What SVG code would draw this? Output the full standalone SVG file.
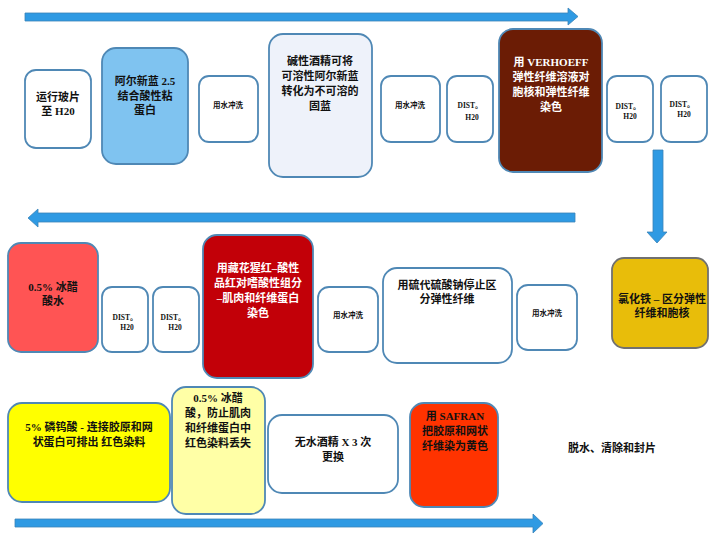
<svg xmlns="http://www.w3.org/2000/svg" width="720" height="544" viewBox="0 0 720 544">
<style>
.n{stroke:#4f88b5;stroke-width:1.8}
.w{fill:#ffffff}
.t{font-family:"Liberation Serif","Noto Sans CJK SC",serif;font-weight:bold;text-anchor:middle;fill:#111}
.m{font-size:11px}
.s{font-size:7.5px}
.wt{fill:#ffffff}
.ar{fill:#2f9ae3;stroke:#3a83b8;stroke-width:0.8}
</style>
<rect width="720" height="544" fill="#ffffff"/>
<g id="connectors">
<polygon class="ar" points="25,13 568,13 568,8 578,16.5 568,25 568,21 25,21"/>
<polygon class="ar" points="653,150 663,150 663,232 667,232 657,243 647,232 653,232"/>
<polygon class="ar" points="575,213 575,222 38,222 38,227 28,218 38,209 38,213"/>
<polygon class="ar" points="15,519 533,519 533,514 543,523.5 533,533 533,527 15,527"/>
</g>
<g id="n1"><rect class="n w" x="25" y="70" width="66" height="78" rx="11"/>
<text class="t m" x="58" y="101">运行玻片</text><text class="t m" x="58" y="115">至 H20</text></g>
<g id="n2"><rect class="n" fill="#7fc3f0" x="102" y="48" width="86" height="116" rx="14"/>
<text class="t m" x="145" y="85">阿尔新蓝 2.5</text><text class="t m" x="145" y="100">结合酸性粘</text><text class="t m" x="145" y="114">蛋白</text></g>
<g id="n3"><rect class="n w" x="199" y="76" width="59" height="66" rx="10"/>
<text class="t s" x="228" y="108">用水冲洗</text></g>
<g id="n4"><rect class="n" fill="#eef2fa" x="269" y="34" width="103" height="143" rx="14"/>
<text class="t m" x="320" y="65">碱性酒精可将</text><text class="t m" x="320" y="80">可溶性阿尔新蓝</text><text class="t m" x="320" y="95">转化为不可溶的</text><text class="t m" x="320" y="110">固蓝</text></g>
<g id="n5"><rect class="n w" x="381" y="76" width="59" height="66" rx="10"/>
<text class="t s" x="410" y="108">用水冲洗</text></g>
<g id="n6"><rect class="n w" x="447" y="76" width="46" height="66" rx="10"/>
<text class="t s" x="470" y="108">DIST。</text><text class="t s" x="472" y="120">H20</text></g>
<g id="n7"><rect class="n" fill="#6b1c05" x="499" y="29" width="103" height="143" rx="14"/>
<text class="t m wt" x="551" y="66">用 VERHOEFF</text><text class="t m wt" x="551" y="81">弹性纤维溶液对</text><text class="t m wt" x="551" y="96">胞核和弹性纤维</text><text class="t m wt" x="551" y="111">染色</text></g>
<g id="n8"><rect class="n w" x="607" y="76" width="46" height="66" rx="10"/>
<text class="t s" x="628" y="109">DIST。</text><text class="t s" x="630" y="119">H20</text></g>
<g id="n9"><rect class="n w" x="661" y="76" width="46" height="66" rx="10"/>
<text class="t s" x="682" y="107">DIST。</text><text class="t s" x="684" y="117">H20</text></g>
<g id="n10"><rect class="n" fill="#e8bd0a" stroke="#6e6e6e" style="stroke:#707070" x="612" y="258" width="96" height="90" rx="12"/>
<text class="t m" x="662" y="303">氯化铁 – 区分弹性</text><text class="t m" x="662" y="317">纤维和胞核</text></g>
<g id="n11"><rect class="n w" x="517" y="285" width="60" height="65" rx="11"/>
<text class="t s" x="547" y="316">用水冲洗</text></g>
<g id="n12"><rect class="n w" x="383" y="268" width="129" height="95" rx="14"/>
<text class="t m" x="447" y="289">用硫代硫酸钠停止区</text><text class="t m" x="447" y="303">分弹性纤维</text></g>
<g id="n13"><rect class="n w" x="318" y="287" width="60" height="65" rx="11"/>
<text class="t s" x="348" y="318">用水冲洗</text></g>
<g id="n14"><rect class="n" fill="#c20008" x="203" y="235" width="110" height="143" rx="14"/>
<text class="t m wt" x="258" y="272">用藏花猩红–酸性</text><text class="t m wt" x="258" y="287">品红对嗜酸性组分</text><text class="t m wt" x="258" y="302">–肌肉和纤维蛋白</text><text class="t m wt" x="258" y="317">染色</text></g>
<g id="n15"><rect class="n w" x="153" y="287" width="46" height="65" rx="10"/>
<text class="t s" x="173" y="320">DIST。</text><text class="t s" x="175" y="330">H20</text></g>
<g id="n16"><rect class="n w" x="102" y="287" width="46" height="65" rx="10"/>
<text class="t s" x="125" y="320">DIST。</text><text class="t s" x="127" y="330">H20</text></g>
<g id="n17"><rect class="n" fill="#ff5454" x="8" y="243" width="90" height="109" rx="13"/>
<text class="t m" x="53" y="291">0.5% 冰醋</text><text class="t m" x="53" y="305">酸水</text></g>
<g id="n18"><rect class="n" fill="#ffff00" x="8" y="403" width="162" height="99" rx="14"/>
<text class="t m" x="89" y="431">5% 磷钨酸 - 连接胶原和网</text><text class="t m" x="89" y="446">状蛋白可排出 红色染料</text></g>
<g id="n19"><rect class="n" fill="#ffffa6" x="172" y="387" width="93" height="127" rx="14"/>
<text class="t m" x="218" y="402">0.5% 冰醋</text><text class="t m" x="218" y="417">酸，防止肌肉</text><text class="t m" x="218" y="432">和纤维蛋白中</text><text class="t m" x="218" y="447">红色染料丢失</text></g>
<g id="n20"><rect class="n w" x="268" y="415" width="130" height="78" rx="14"/>
<text class="t m" x="333" y="446">无水酒精 X 3 次</text><text class="t m" x="333" y="461">更换</text></g>
<g id="n21"><rect class="n" fill="#ff3300" x="410" y="403" width="88" height="104" rx="14"/>
<text class="t m" x="455" y="420">用 SAFRAN</text><text class="t m" x="455" y="435">把胶原和网状</text><text class="t m" x="455" y="450">纤维染为黄色</text></g>
<g id="n22"><text class="t m" x="612" y="452">脱水、清除和封片</text></g>
</svg>
